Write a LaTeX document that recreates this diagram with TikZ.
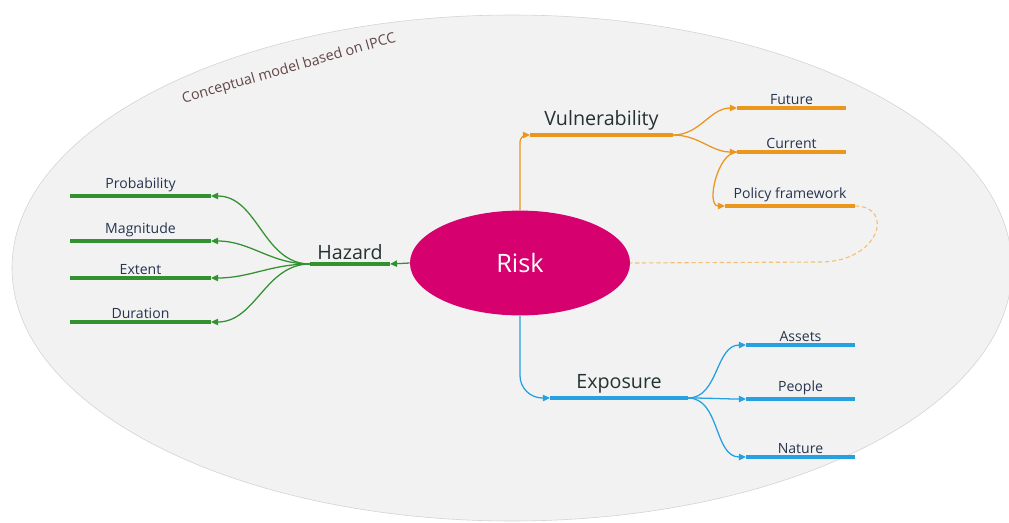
\documentclass[tikz,border=0pt]{standalone}
\usepackage{fontspec}
\setmainfont{Open Sans}
\usetikzlibrary{arrows.meta,shapes.geometric}

\definecolor{riskpink}{RGB}{214,0,111}
\definecolor{hazgreen}{RGB}{52,145,48}
\definecolor{vulorange}{RGB}{235,150,28}
\definecolor{expblue}{RGB}{38,160,225}
\definecolor{bgfill}{RGB}{242,242,242}
\definecolor{bgline}{RGB}{210,210,210}
\definecolor{leaftext}{RGB}{38,52,78}
\definecolor{branchtext}{RGB}{36,50,50}
\definecolor{notetext}{RGB}{100,70,72}

\tikzset{
    bar/.style={line width=2.2pt},
    link/.style={line width=0.9pt, -{Triangle[length=5pt,width=4.5pt]}},
    leaf/.style={font=\fontsize{10}{11}\selectfont, text=leaftext, inner sep=1.5pt},
    branch/.style={font=\fontsize{14}{15}\selectfont, text=branchtext, inner sep=2pt},
}

\begin{document}
\begin{tikzpicture}[x=0.025cm, y=-0.025cm]
    \useasboundingbox (0,0) rectangle (1009,522);
    % Frame
    \fill[fill=bgfill, draw=bgline] (512,268) ellipse [x radius=500, y radius=253];
    \node[font=\fontsize{10.2}{11}\selectfont, text=notetext, rotate=16] (note) at (289,69) {Conceptual model based on IPCC};
    % Risk
    \node[ellipse, fill=riskpink, minimum width=5.5cm, minimum height=2.62cm, inner sep=0pt,
          text=white, font=\fontsize{18}{20}\selectfont] (risk) at (520,263) {Risk};
    % Hazard
    \coordinate (haz-l) at (310,264);
    \coordinate (haz-r) at (390,264);
    \draw[hazgreen, bar] (haz-l) -- node[branch, above] (haz) {Hazard} (haz-r);
    \draw[hazgreen, link] (risk.west) -- (haz-r);
    \foreach \name/\txt/\y in {prob/Probability/196, magn/Magnitude/241, extn/Extent/278, durn/Duration/322} {
        \coordinate (\name-l) at (70,\y);
        \coordinate (\name-r) at (211,\y);
        \draw[hazgreen, bar] (\name-l) -- node[leaf, above] (\name) {\txt} (\name-r);
        \draw[hazgreen, link] (haz-l) to[out=180, in=0] (\name-r);
    }
    % Vulnerability
    \coordinate (vul-l) at (530,135);
    \coordinate (vul-r) at (673,135);
    \draw[vulorange, bar] (vul-l) -- node[branch, above] (vul) {Vulnerability} (vul-r);
    \draw[vulorange, link, rounded corners=5pt] (risk.north) |- (vul-l);
    \foreach \name/\txt/\y in {futr/Future/108, curr/Current/152} {
        \coordinate (\name-l) at (737,\y);
        \coordinate (\name-r) at (846,\y);
        \draw[vulorange, bar] (\name-l) -- node[leaf, above] (\name) {\txt} (\name-r);
        \draw[vulorange, link] (vul-r) to[out=0, in=180] (\name-l);
    }
    \coordinate (pol-l) at (725,206);
    \coordinate (pol-r) at (855,206);
    \draw[vulorange, bar] (pol-l) -- node[leaf, above] (pol) {Policy framework} (pol-r);
    \draw[vulorange, link] (curr-l) to[out=180, in=180, looseness=0.9] (pol-l);
    \draw[vulorange!60, densely dashed, line width=0.8pt] (pol-r) .. controls (895,206) and (880,262) .. (820,262) -- (risk.east);
    % Exposure
    \coordinate (exp-l) at (550,398);
    \coordinate (exp-r) at (688,398);
    \draw[expblue, bar] (exp-l) -- node[branch, above] (exp) {Exposure} (exp-r);
    \draw[expblue, link, rounded corners=16pt] (risk.south) |- (exp-l);
    \foreach \name/\txt/\y in {asst/Assets/345, peop/People/399, natr/Nature/457} {
        \coordinate (\name-l) at (746,\y);
        \coordinate (\name-r) at (855,\y);
        \draw[expblue, bar] (\name-l) -- node[leaf, above] (\name) {\txt} (\name-r);
        \draw[expblue, link] (exp-r) to[out=0, in=180] (\name-l);
    }
\end{tikzpicture}
\end{document}
